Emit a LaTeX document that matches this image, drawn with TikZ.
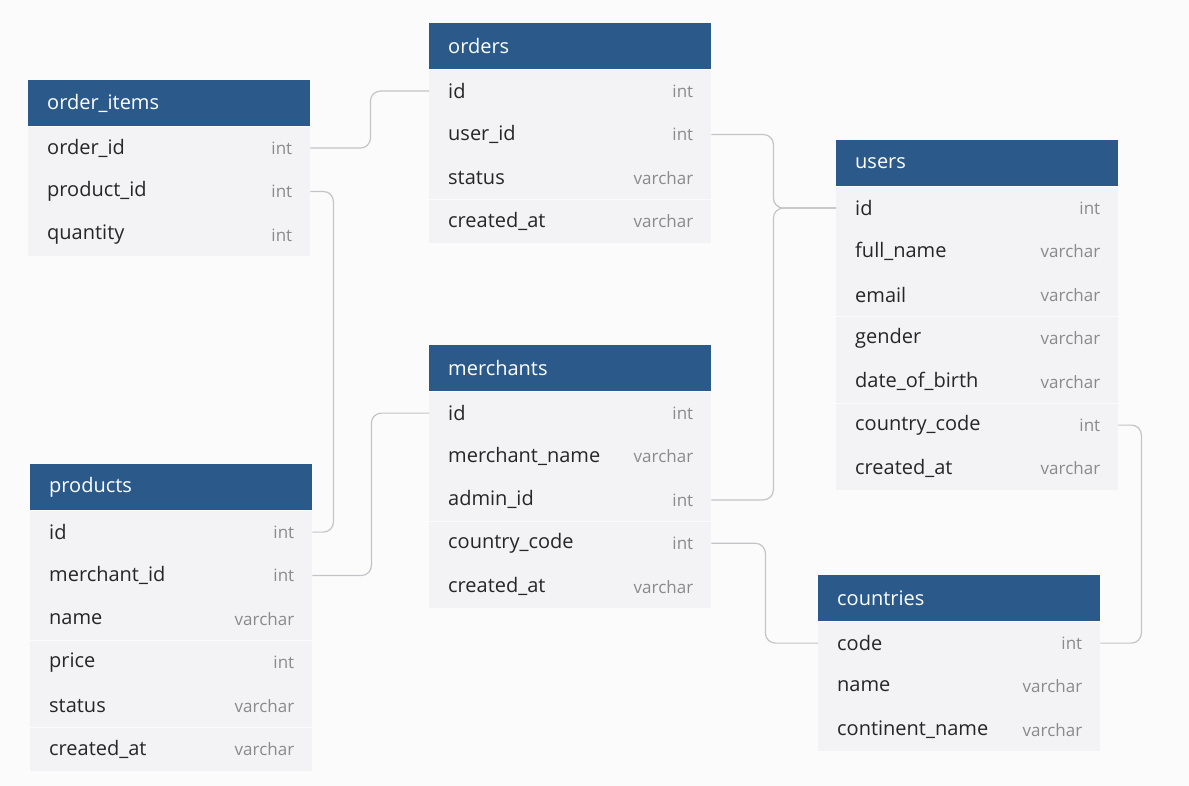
\documentclass[tikz,border=0pt]{standalone}
\usepackage{fontspec}
\setmainfont{Open Sans}
\usetikzlibrary{positioning}
\definecolor{headblue}{HTML}{2B5A8A}
\definecolor{rowgray}{HTML}{F3F3F5}
\definecolor{typegray}{HTML}{8A8A8A}
\definecolor{linkgray}{HTML}{C4C4C8}
\definecolor{bggray}{HTML}{FBFBFC}

\begin{document}
\begin{tikzpicture}[x=1pt,y=-1pt,
	tblhead/.style={fill=headblue, text=white, anchor=north west,
		minimum width=282pt, minimum height=46pt, text width=244pt,
		inner xsep=19pt, align=left, font=\fontsize{20}{20}\selectfont},
	row/.style={fill=rowgray, text=black!85, minimum width=282pt,
		minimum height=43pt, text width=244pt, inner xsep=19pt,
		align=left, font=\fontsize{20}{20}\selectfont},
	typ/.style={anchor=east, inner xsep=18pt, text=typegray,
		font=\fontsize{17}{17}\selectfont},
	link/.style={draw=linkgray, line width=1.2pt, rounded corners=10pt}]

\fill[bggray] (0,0) rectangle (1189,786);

%%%%%%%%%%%%%%%%%%%
% Tables

\node[tblhead] (order_items-0) at (28,80) {order\_items};
\foreach \n/\t [count=\i] in {order\_id/int, product\_id/int, quantity/int} {
	\pgfmathtruncatemacro\j{\i-1}
	\node[row, below=0pt of order_items-\j] (order_items-\i) {\n};
	\node[typ] at (order_items-\i.east) {\t};
}

\node[tblhead] (orders-0) at (429,23) {orders};
\foreach \n/\t [count=\i] in {id/int, user\_id/int, status/varchar, created\_at/varchar} {
	\pgfmathtruncatemacro\j{\i-1}
	\node[row, below=0pt of orders-\j] (orders-\i) {\n};
	\node[typ] at (orders-\i.east) {\t};
}

\node[tblhead] (users-0) at (836,140) {users};
\foreach \n/\t [count=\i] in {id/int, full\_name/varchar, email/varchar, gender/varchar,
	date\_of\_birth/varchar, country\_code/int, created\_at/varchar} {
	\pgfmathtruncatemacro\j{\i-1}
	\node[row, below=0pt of users-\j] (users-\i) {\n};
	\node[typ] at (users-\i.east) {\t};
}

\node[tblhead] (merchants-0) at (429,345) {merchants};
\foreach \n/\t [count=\i] in {id/int, merchant\_name/varchar, admin\_id/int,
	country\_code/int, created\_at/varchar} {
	\pgfmathtruncatemacro\j{\i-1}
	\node[row, below=0pt of merchants-\j] (merchants-\i) {\n};
	\node[typ] at (merchants-\i.east) {\t};
}

\node[tblhead] (products-0) at (30,464) {products};
\foreach \n/\t [count=\i] in {id/int, merchant\_id/int, name/varchar, price/int,
	status/varchar, created\_at/varchar} {
	\pgfmathtruncatemacro\j{\i-1}
	\node[row, below=0pt of products-\j] (products-\i) {\n};
	\node[typ] at (products-\i.east) {\t};
}

\node[tblhead] (countries-0) at (818,575) {countries};
\foreach \n/\t [count=\i] in {code/int, name/varchar, continent\_name/varchar} {
	\pgfmathtruncatemacro\j{\i-1}
	\node[row, below=0pt of countries-\j] (countries-\i) {\n};
	\node[typ] at (countries-\i.east) {\t};
}

%%%%%%%%%%%%%%%%%%%
% References

\draw[link] (order_items-1.east) -- ++(60,0) |- (orders-1.west);
\draw[link] (order_items-2.east) -- ++(23,0) |- (products-1.east);
\draw[link] (orders-2.east) -- ++(62,0) |- (users-1.west);
\draw[link] (merchants-3.east) -- ++(62,0) |- (users-1.west);
\draw[link] (products-2.east) -- ++(59,0) |- (merchants-1.west);
\draw[link] (merchants-4.east) -- ++(54,0) |- (countries-1.west);
\draw[link] (users-6.east) -- ++(23,0) |- (countries-1.east);

\end{tikzpicture}
\end{document}
